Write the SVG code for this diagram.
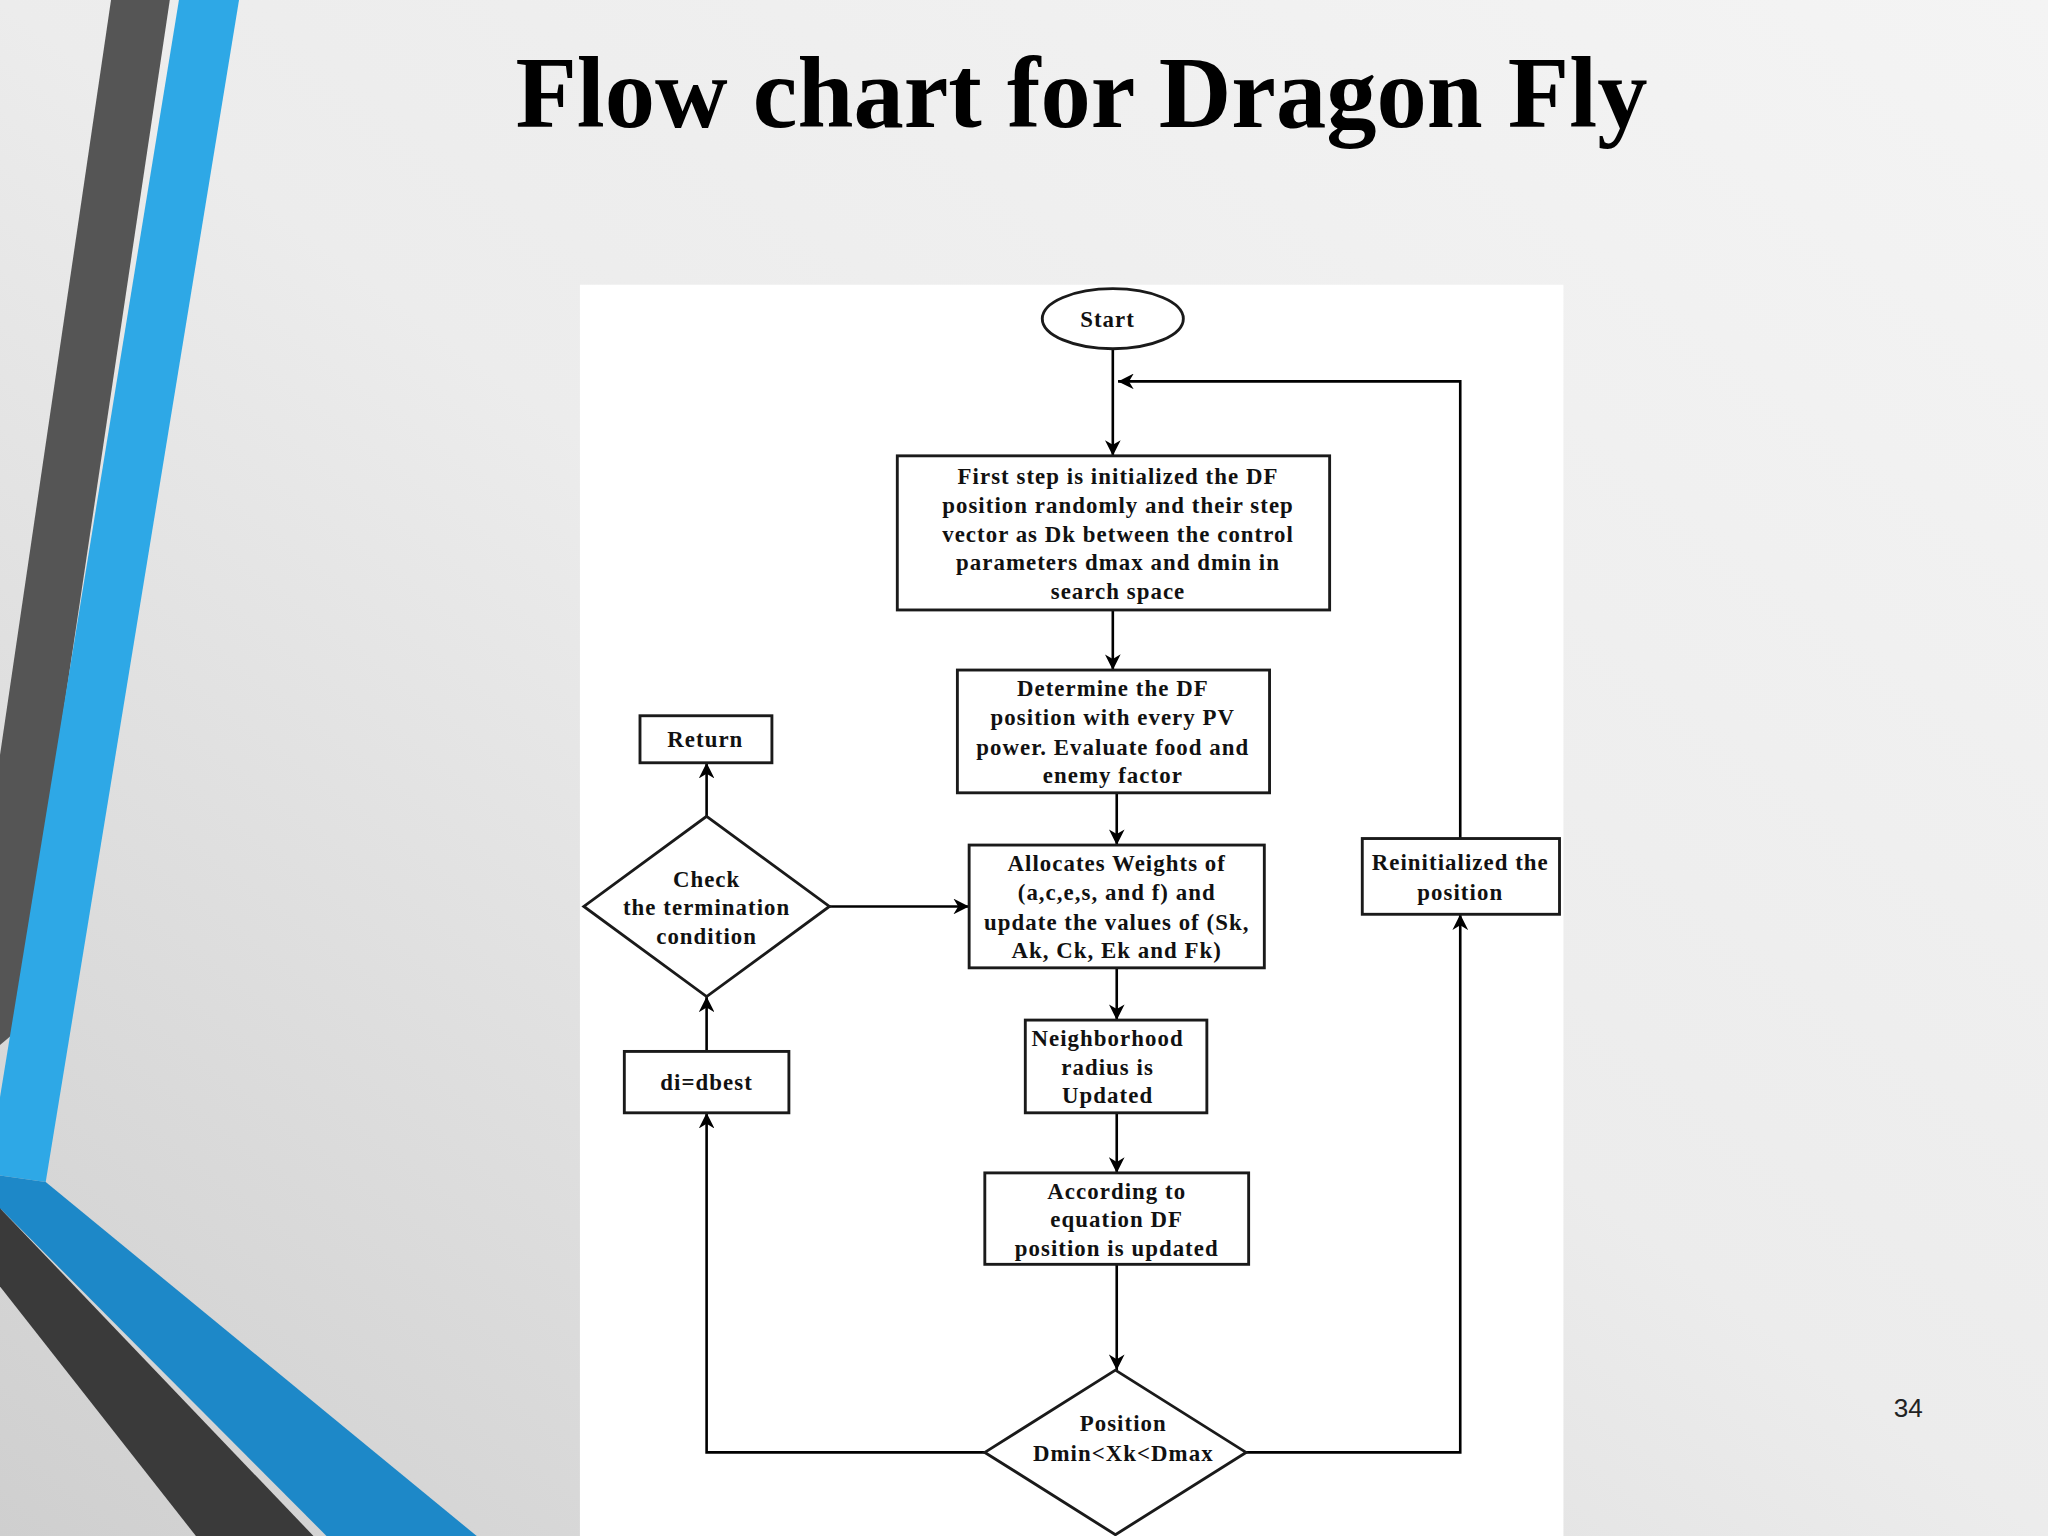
<svg xmlns="http://www.w3.org/2000/svg" width="2048" height="1536" viewBox="0 0 2048 1536">
<defs>
<linearGradient id="bg" x1="1" y1="0" x2="0" y2="1">
<stop offset="0" stop-color="#f4f4f4"/><stop offset="0.5" stop-color="#ececec"/><stop offset="1" stop-color="#cfcfcf"/>
</linearGradient>
<marker id="ah" viewBox="0 0 10 10" refX="10" refY="5" markerWidth="12" markerHeight="12" markerUnits="userSpaceOnUse" orient="auto">
<path d="M0,0 L10,5 L0,10 L3,5 z" fill="#000"/>
</marker>
<style>
.n{fill:#fff;stroke:#1a1a1a;stroke-width:2.2}
.t{font-family:"Liberation Serif",serif;font-weight:bold;font-size:17.5px;letter-spacing:0.8px;fill:#111;text-anchor:middle;dominant-baseline:central}
.c{fill:none;stroke:#000;stroke-width:2;marker-end:url(#ah)}
</style>
</defs>
<rect width="2048" height="1536" fill="url(#bg)"/>
<g transform="scale(1.30612)">
<g id="decoration">
<polygon points="85,0 130,0 12,790 0,800 0,578" fill="#555"/>
<polygon points="137,0 183,0 35,905 0,900 0,840" fill="#2ea8e6"/>
<polygon points="0,900 35,905 365,1176 250,1176 0,925" fill="#1d88c8"/>
<polygon points="0,925 0,985 150,1176 240,1176" fill="#3a3a3a"/>
</g>
<text x="828" y="97" font-family="Liberation Serif,serif" font-weight="bold" font-size="77" text-anchor="middle" fill="#000">Flow chart for Dragon Fly</text>
<rect x="444" y="218" width="753" height="958" fill="#fff"/>
<g id="connectors">
<path class="c" d="M852,267 V349"/>
<path class="c" d="M1118,642 V292 H856"/>
<path class="c" d="M852,467 V513"/>
<path class="c" d="M855,607 V647"/>
<path class="c" d="M855,741 V781"/>
<path class="c" d="M855,852 V898"/>
<path class="c" d="M855,968 V1049"/>
<path class="c" d="M954,1112 H1118 V700"/>
<path class="c" d="M754,1112 H541 V852"/>
<path class="c" d="M541,805 V763"/>
<path class="c" d="M541,625 V584"/>
<path class="c" d="M635,694 H742"/>
</g>
<g id="start"><ellipse class="n" cx="852" cy="244" rx="54" ry="23"/><text class="t" x="848" y="245">Start</text></g>
<g id="init"><rect class="n" x="687" y="349" width="331" height="118"/>
<text class="t" x="856" y="365">First step is initialized the DF</text>
<text class="t" x="856" y="387">position randomly and their step</text>
<text class="t" x="856" y="409">vector as Dk between the control</text>
<text class="t" x="856" y="431">parameters dmax and dmin in</text>
<text class="t" x="856" y="453">search space</text></g>
<g id="determine"><rect class="n" x="733" y="513" width="239" height="94"/>
<text class="t" x="852" y="527">Determine the DF</text>
<text class="t" x="852" y="549">position with every PV</text>
<text class="t" x="852" y="572">power. Evaluate food and</text>
<text class="t" x="852" y="594">enemy factor</text></g>
<g id="allocate"><rect class="n" x="742" y="647" width="226" height="94"/>
<text class="t" x="855" y="661">Allocates Weights of</text>
<text class="t" x="855" y="683">(a,c,e,s, and f) and</text>
<text class="t" x="855" y="706">update the values of (Sk,</text>
<text class="t" x="855" y="728">Ak, Ck, Ek and Fk)</text></g>
<g id="neighborhood"><rect class="n" x="785" y="781" width="139" height="71"/>
<text class="t" x="848" y="795">Neighborhood</text>
<text class="t" x="848" y="817">radius is</text>
<text class="t" x="848" y="839">Updated</text></g>
<g id="according"><rect class="n" x="754" y="898" width="202" height="70"/>
<text class="t" x="855" y="912">According to</text>
<text class="t" x="855" y="934">equation DF</text>
<text class="t" x="855" y="956">position is updated</text></g>
<g id="position"><polygon class="n" points="854,1049 954,1112 854,1175 754,1112"/>
<text class="t" x="860" y="1090">Position</text>
<text class="t" x="860" y="1113">Dmin&lt;Xk&lt;Dmax</text></g>
<g id="check"><polygon class="n" points="541,625 635,694 541,763 447,694"/>
<text class="t" x="541" y="673">Check</text>
<text class="t" x="541" y="695">the termination</text>
<text class="t" x="541" y="717">condition</text></g>
<g id="return"><rect class="n" x="490" y="548" width="101" height="36"/><text class="t" x="540" y="566">Return</text></g>
<g id="dbest"><rect class="n" x="478" y="805" width="126" height="47"/><text class="t" x="541" y="829">di=dbest</text></g>
<g id="reinit"><rect class="n" x="1043" y="642" width="151" height="58"/>
<text class="t" x="1118" y="660">Reinitialized the</text>
<text class="t" x="1118" y="683">position</text></g>
<text x="1461" y="1085" font-family="Liberation Sans,sans-serif" font-size="20" text-anchor="middle" fill="#222">34</text>
</g>
</svg>
